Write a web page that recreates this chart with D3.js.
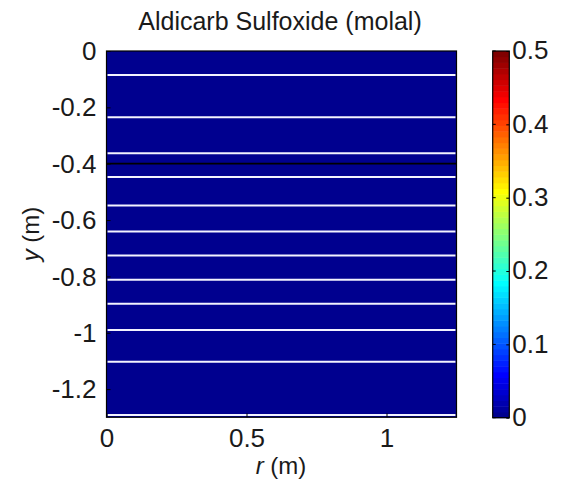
<!DOCTYPE html>
<html>
<head>
<meta charset="utf-8">
<script src="https://cdn.jsdelivr.net/npm/d3@7"></script>
<style>
  body { margin: 0; background: #fff; }
  svg text { font-family: "Liberation Sans", Arial, sans-serif; fill: #1a1a1a; }
</style>
</head>
<body>
<svg></svg>
<script>
// radial extent of the domain (m)
var rExtent = [0, 1.25];
// top of each soil layer (m), last layer runs to the bottom
var layerTops = [0, -0.085, -0.235, -0.363, -0.447, -0.548, -0.641, -0.726, -0.812, -0.897, -0.990, -1.103, -1.292];
var yBottom = -1.3;
// concentration in each layer (molal)
var layerConc = [0, 0, 0, 0, 0, 0, 0, 0, 0, 0, 0, 0, 0];
var waterTable = -0.4;
var xTicks = [0, 0.5, 1];
var yTicks = [0, -0.2, -0.4, -0.6, -0.8, -1, -1.2];
var cTicks = [0, 0.1, 0.2, 0.3, 0.4, 0.5];
var cRange = [0, 0.5];

var svg = d3.select('svg')
    .attr('width', 563)
    .attr('height', 489);

var fs = 26;

// matlab style jet(64)
function jet(i) {
    var t = (i + 1) / 64;
    var c = (v) => Math.round(255 * Math.max(0, Math.min(1, v)));
    return d3.rgb(c(1.5 - Math.abs(4 * t - 3)), c(1.5 - Math.abs(4 * t - 2)), c(1.5 - Math.abs(4 * t - 1)));
}
var color = (v) => jet(Math.max(0, Math.min(63, Math.floor((v - cRange[0]) / (cRange[1] - cRange[0]) * 64))));

var x = d3.scaleLinear().domain(rExtent).range([106.5, 456.5]);
var y = d3.scaleLinear().domain([yBottom, 0]).range([417.3, 51]);

var layers = layerTops.map((top, i) => ({
    top: top,
    bottom: i < layerTops.length - 1 ? layerTops[i + 1] : yBottom,
    conc: layerConc[i]
}));

var plot = svg.append('g');
plot.selectAll('rect')
    .data(layers)
    .enter()
    .append('rect')
        .attr('x', x(rExtent[0]))
        .attr('width', x(rExtent[1]) - x(rExtent[0]))
        .attr('y', (d) => y(d.top))
        .attr('height', (d) => y(d.bottom) - y(d.top))
        .attr('fill', (d) => color(d.conc))
        .attr('shape-rendering', 'crispEdges');

plot.selectAll('line.layer')
    .data(layerTops.slice(1))
    .enter()
    .append('line')
        .attr('class', 'layer')
        .attr('x1', x(rExtent[0]) + 1)
        .attr('x2', x(rExtent[1]) - 1)
        .attr('y1', (d) => y(d))
        .attr('y2', (d) => y(d))
        .attr('stroke', '#f2f2ff')
        .attr('stroke-width', 2);

plot.append('line')
    .attr('x1', x(rExtent[0]))
    .attr('x2', x(rExtent[1]))
    .attr('y1', y(waterTable))
    .attr('y2', y(waterTable))
    .attr('stroke', '#000')
    .attr('stroke-width', 1.8);

// axes, ticks inside like matlab
var xAxis = svg.append('g')
    .attr('transform', 'translate(0,' + y(yBottom) + ')')
    .call(d3.axisBottom(x).tickValues(xTicks).tickFormat(d3.format('')).tickSizeInner(-4).tickSizeOuter(0).tickPadding(12));
var yAxis = svg.append('g')
    .attr('transform', 'translate(' + x(0) + ',0)')
    .call(d3.axisLeft(y).tickValues(yTicks).tickFormat(d3.format('')).tickSizeInner(-4).tickSizeOuter(0).tickPadding(10));
[xAxis, yAxis].forEach((a) => {
    a.select('.domain').remove();
    a.selectAll('text').attr('font-size', fs).attr('font-family', null).attr('fill', null);
    a.selectAll('line').attr('stroke', '#000');
});
xAxis.selectAll('text').attr('dy', '0.7em');
yAxis.selectAll('text').attr('dy', '0.33em').text((d) => String(d).replace('\u2212', '-'));

svg.append('rect')
    .attr('x', x(rExtent[0]))
    .attr('y', y(0))
    .attr('width', x(rExtent[1]) - x(rExtent[0]))
    .attr('height', y(yBottom) - y(0))
    .attr('fill', 'none')
    .attr('stroke', '#000')
    .attr('stroke-width', 1.2);

svg.append('text')
    .attr('x', 280)
    .attr('y', 30)
    .attr('text-anchor', 'middle')
    .attr('font-size', 25)
    .text('Aldicarb Sulfoxide (molal)');

var xl = svg.append('text')
    .attr('x', 281)
    .attr('y', 474)
    .attr('text-anchor', 'middle')
    .attr('font-size', 24);
xl.append('tspan').attr('font-style', 'italic').text('r');
xl.append('tspan').text(' (m)');

var yl = svg.append('text')
    .attr('transform', 'translate(39,234) rotate(-90)')
    .attr('text-anchor', 'middle')
    .attr('font-size', 24);
yl.append('tspan').attr('font-style', 'italic').text('y');
yl.append('tspan').text(' (m)');

// colorbar
var cb = { x0: 492.7, x1: 509.3 };
var cy = d3.scaleLinear().domain(cRange).range([417.7, 51]);
var steps = d3.range(64);
svg.append('g').selectAll('rect')
    .data(steps)
    .enter()
    .append('rect')
        .attr('x', cb.x0)
        .attr('width', cb.x1 - cb.x0)
        .attr('y', (i) => cy(cRange[0] + (i + 1) / 64 * (cRange[1] - cRange[0])))
        .attr('height', (cy(0) - cy(cRange[1])) / 64 + 0.5)
        .attr('fill', (i) => jet(i));

var cAxis = svg.append('g')
    .attr('transform', 'translate(' + cb.x1 + ',0)')
    .call(d3.axisRight(cy).tickValues(cTicks).tickFormat(d3.format('')).tickSizeInner(-3).tickSizeOuter(0).tickPadding(3));
cAxis.select('.domain').remove();
cAxis.selectAll('text').attr('font-size', fs).attr('font-family', null).attr('fill', null).attr('dy', '0.3em');
cAxis.selectAll('line').attr('stroke', '#000');
svg.append('g').selectAll('line')
    .data(cTicks)
    .enter()
    .append('line')
        .attr('x1', cb.x0)
        .attr('x2', cb.x0 + 3)
        .attr('y1', (d) => cy(d))
        .attr('y2', (d) => cy(d))
        .attr('stroke', '#000');
svg.append('rect')
    .attr('x', cb.x0)
    .attr('y', cy(cRange[1]))
    .attr('width', cb.x1 - cb.x0)
    .attr('height', cy(0) - cy(cRange[1]))
    .attr('fill', 'none')
    .attr('stroke', '#000')
    .attr('stroke-width', 1.2);
</script>
</body>
</html>
